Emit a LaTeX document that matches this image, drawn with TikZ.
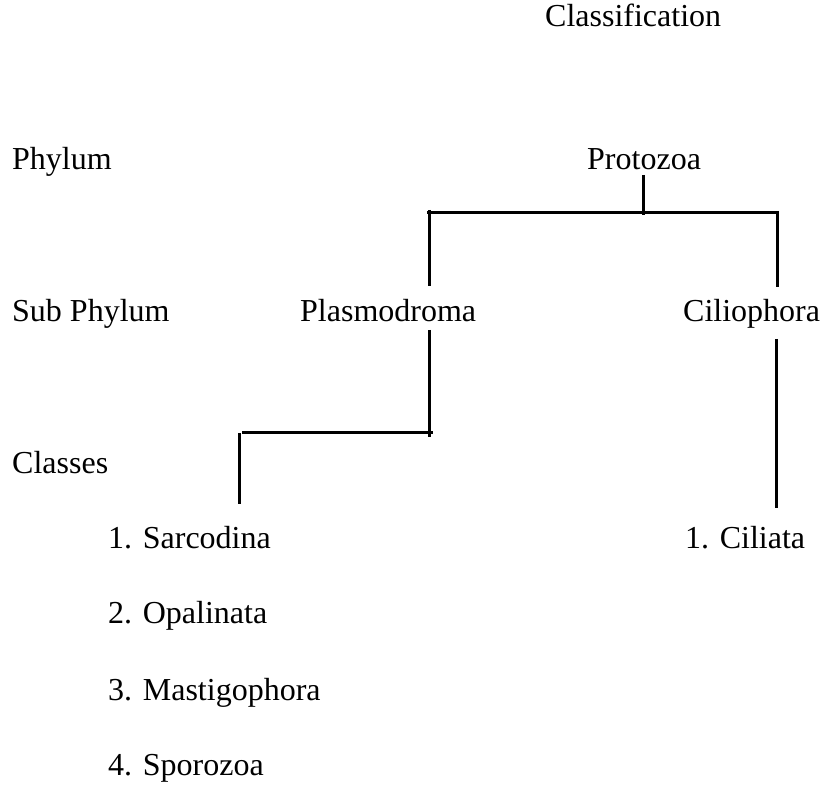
\documentclass[tikz,border=0pt]{standalone}
\usepackage{fontspec}
\setmainfont{Liberation Serif}
\begin{document}
\begin{tikzpicture}[x=1pt,y=-1pt,
  lbl/.style={anchor=base west,inner sep=0pt,font=\fontsize{32}{38}\selectfont},
  tline/.style={line width=3pt,black}]
\useasboundingbox (0,0) rectangle (822,786);
% texts
\node[lbl] (title) at (545,27) {Classification};
\node[lbl] (phylum) at (12,170) {Phylum};
\node[lbl] (protozoa) at (587,170) {Protozoa};
\node[lbl] (subphylum) at (12,322) {Sub Phylum};
\node[lbl] (plasmo) at (300,322) {Plasmodroma};
\node[lbl] (cilio) at (683,322) {Ciliophora};
\node[lbl] (classes) at (12,473) {Classes};
\node[lbl] (sarco) at (108,548) {1. Sarcodina};
\node[lbl] (ciliata) at (685,548) {1. Ciliata};
\node[lbl] (opal) at (108,623) {2. Opalinata};
\node[lbl] (masti) at (108,700) {3. Mastigophora};
\node[lbl] (sporo) at (108,775) {4. Sporozoa};
% junction coordinates
\coordinate (pTop) at (643,175);
\coordinate (pBar) at (643,215);
\coordinate (lTop) at (429,210);
\coordinate (lBot) at (429,286);
\coordinate (rTop) at (777,211);
\coordinate (rBot) at (777,287);
\coordinate (hL) at (427,213);
\coordinate (hR) at (779,213);
\coordinate (plTop) at (429,330);
\coordinate (plBot) at (429,437);
\coordinate (h2L) at (242,432);
\coordinate (h2R) at (433,432);
\coordinate (sTop) at (239,433);
\coordinate (sBot) at (239,504);
\coordinate (cTop) at (776,339);
\coordinate (cBot) at (776,508);
% connectors
\draw[tline] (pTop) -- (pBar);
\draw[tline] (hL) -- (hR);
\draw[tline] (lTop) -- (lBot);
\draw[tline] (rTop) -- (rBot);
\draw[tline] (plTop) -- (plBot);
\draw[tline] (h2L) -- (h2R);
\draw[tline] (sTop) -- (sBot);
\draw[tline] (cTop) -- (cBot);
\end{tikzpicture}
\end{document}
